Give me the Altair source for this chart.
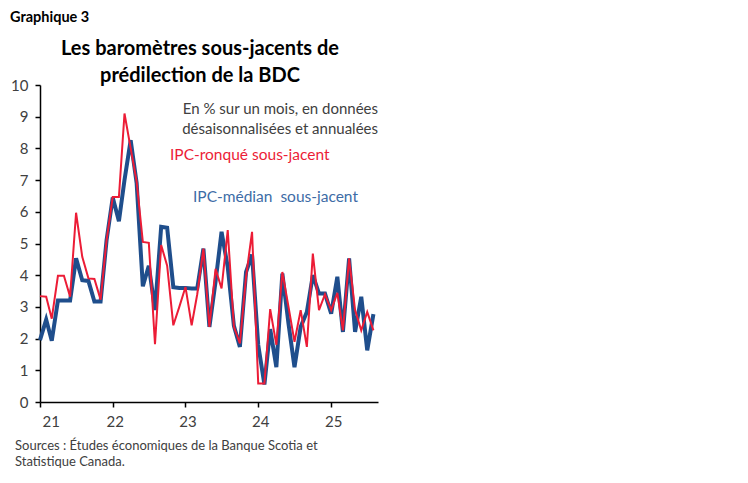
import altair as alt
import pandas as pd

months = pd.date_range("2021-01-01", periods=56, freq="MS")

ipc_median = [1.95, 2.6, 1.93, 3.2, 3.2, 3.2, 4.53, 3.84, 3.82, 3.17, 3.17, 5.1, 6.45,
              5.7, 7.0, 8.26, 6.9, 3.65, 4.3, 2.9, 5.53, 5.5, 3.62, 3.6, 3.6,
              3.58, 3.58, 4.84, 2.37, 3.8, 5.37, 4.26, 2.4, 1.74, 4.1, 4.65,
              1.8, 0.55, 2.3, 1.1, 4.05, 2.47, 1.1, 2.37, 2.84, 4.0, 3.42, 3.42,
              2.79, 3.95, 2.21, 4.53, 2.21, 3.32, 1.63, 2.77]

ipc_tronque = [3.34, 3.32, 2.63, 3.98, 3.98, 3.32, 5.97, 4.58, 3.9, 3.88, 3.23, 5.1, 6.47,
               6.47, 9.1, 8.0, 6.95, 5.05, 5.02, 1.82, 4.95, 4.3, 2.42, 3.0, 3.63,
               2.42, 3.4, 4.84, 2.37, 4.2, 3.58, 5.42, 2.37, 1.85, 3.95, 5.37,
               0.58, 0.58, 2.93, 1.8, 4.1, 3.0, 1.9, 2.9, 1.74, 4.68, 2.9, 3.4,
               2.9, 3.44, 2.26, 4.53, 2.9, 2.26, 2.84, 2.26]

year_ticks = [2021, 2022, 2023, 2024, 2025]
y_ticks = list(range(0, 11))

FONT = "Lato"
BLUE = "#1f4e8c"
RED = "#ec1c36"

df = pd.DataFrame({"Mois": months, "median": ipc_median, "tronque": ipc_tronque})

x_enc = alt.X("Mois:T",
              scale=alt.Scale(domain=[alt.DateTime(year=2021, month=1, date=1),
                                      alt.DateTime(year=2025, month=8, date=24)]),
              axis=alt.Axis(values=[alt.DateTime(year=y, month=1, date=1) for y in year_ticks],
                            format="%y", title=None, grid=False,
                            domainColor="black", domainWidth=1.5,
                            tickColor="black", tickSize=5, tickWidth=1.5,
                            labelColor="#404040", labelFont=FONT, labelFontSize=15,
                            labelPadding=7, labelOffset=2))

y_axis = alt.Axis(values=y_ticks, title=None, grid=False,
                  domainColor="black", domainWidth=1.5,
                  tickColor="black", tickSize=5, tickWidth=1.5,
                  labelColor="#404040", labelFont=FONT, labelFontSize=15,
                  labelPadding=7)

base = alt.Chart(df)

blue_line = base.mark_line(color=BLUE, strokeWidth=4).encode(
    x=x_enc,
    y=alt.Y("median:Q", scale=alt.Scale(domain=[0, 10], nice=False), axis=y_axis),
)

red_line = base.mark_line(color=RED, strokeWidth=2).encode(
    x=x_enc,
    y=alt.Y("tronque:Q", scale=alt.Scale(domain=[0, 10], nice=False), axis=y_axis),
)


def label(text, x, y, size, color, align="left", weight="normal"):
    return alt.Chart(pd.DataFrame({"t": [text]})).mark_text(
        align=align, baseline="alphabetic", font=FONT, fontSize=size,
        color=color, fontWeight=weight
    ).encode(text="t:N", x=alt.value(x), y=alt.value(y))


texts = [
    label("Graphique 3", -30, -63, 14.5, "black", weight="bold"),
    label("Les baromètres sous-jacents de", 160, -30, 20, "black", align="center", weight="bold"),
    label("prédilection de la BDC", 160, -3, 20, "black", align="center", weight="bold"),
    label("En % sur un mois, en données", 338, 29, 15, "#404040", align="right"),
    label("désaisonnalisées et annualées", 338, 49, 15, "#404040", align="right"),
    label("IPC-ronqué sous-jacent", 130, 75, 15.5, RED),
    label("IPC-médian\u00a0 sous-jacent", 153, 117, 15.5, "#3d6ca6"),
    label("Sources : Études économiques de la Banque Scotia et", -25, 365, 13, "#404040"),
    label("Statistique Canada.", -25, 381, 13, "#404040"),
]

chart = alt.layer(blue_line, red_line, *texts).properties(
    width=338,
    height=317,
    padding={"left": 32, "top": 77, "right": 360, "bottom": 71},
    autosize=alt.AutoSizeParams(type="none"),
).configure_view(stroke=None)

chart.save("out.html", embed_options={"renderer": "svg", "actions": False})
